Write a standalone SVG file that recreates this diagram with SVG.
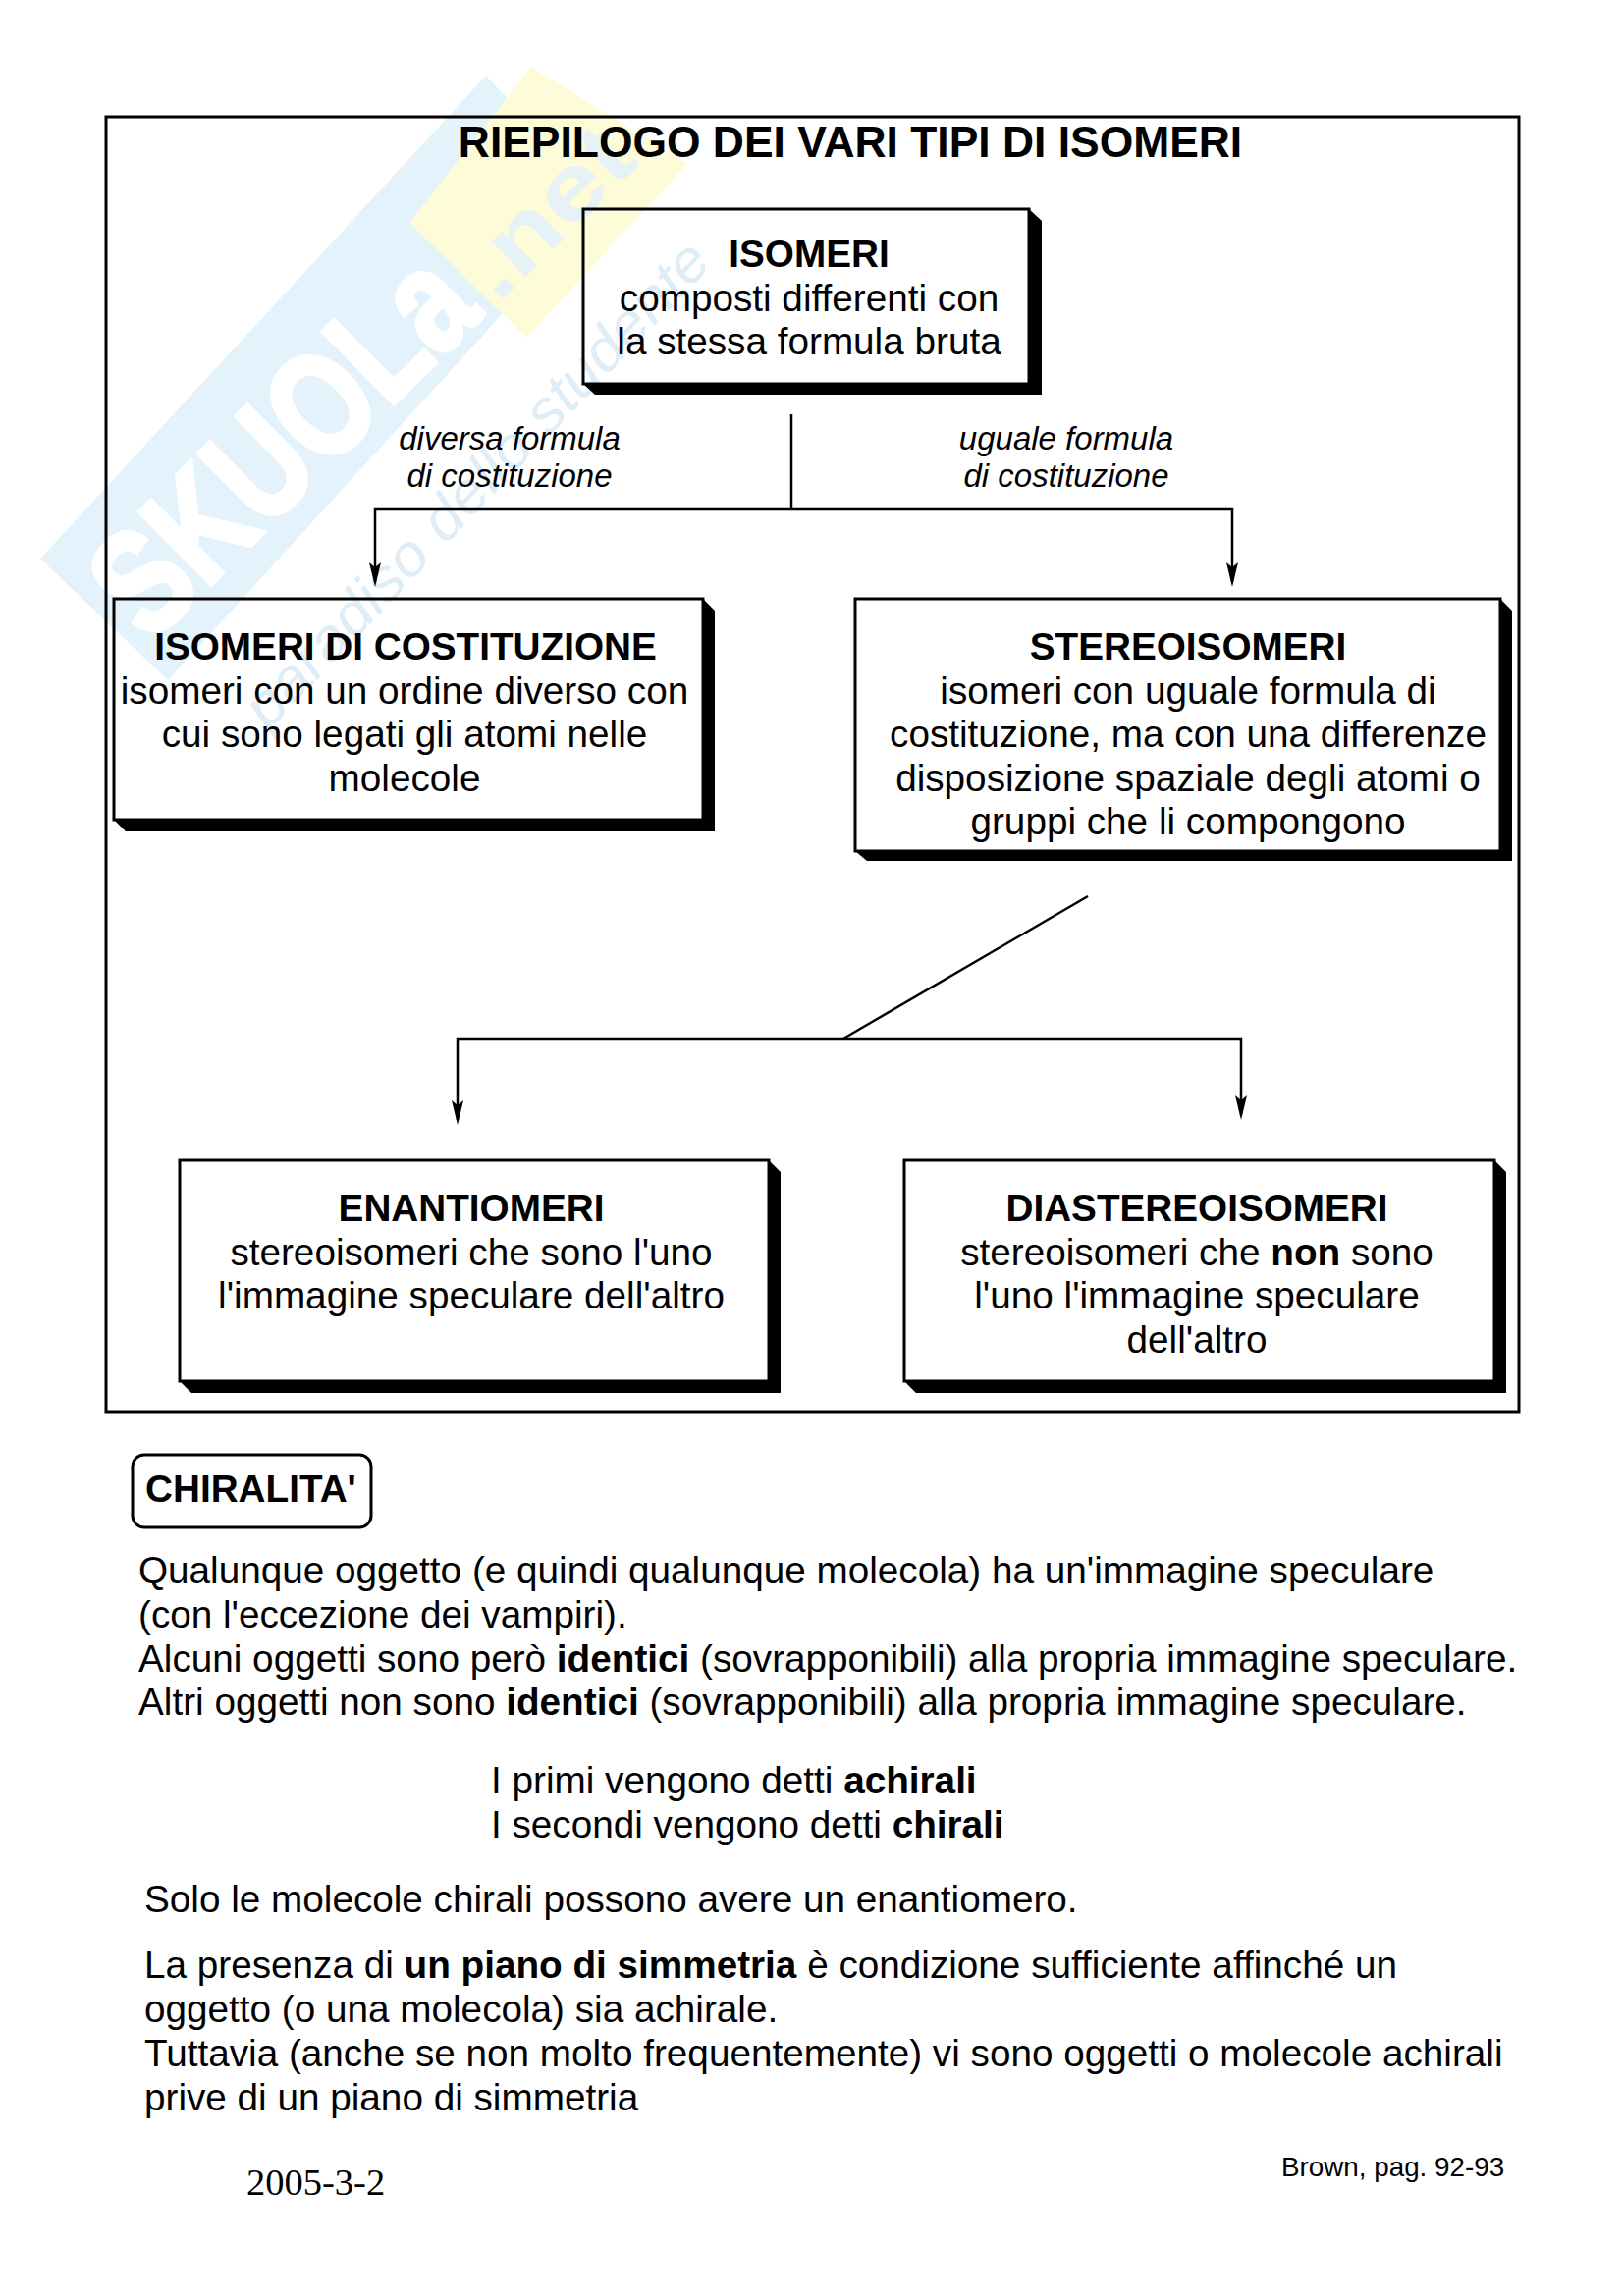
<svg xmlns="http://www.w3.org/2000/svg" width="1653" height="2339" viewBox="0 0 1653 2339">
<style>
text{font-family:"Liberation Sans",Arial,sans-serif;fill:#000;font-size:38.7px}
.m{text-anchor:middle}
.h{font-weight:bold}
.i{font-style:italic;font-size:33px}
.box{fill:none;stroke:#000;stroke-width:3}
.sh{fill:#000}
.c{fill:none;stroke:#000;stroke-width:2.5}
.wb{fill:#e3f2fb}.wy{fill:#fdfbd8}
.wt{fill:#fff;stroke:#fff;stroke-width:5;font-weight:bold;font-size:150px}
.wn{fill:#e6f2f5;font-weight:bold;font-size:95px}
.ws{fill:#dfedf7;font-size:60px;font-style:italic}
</style>
<defs>
<marker id="b" markerUnits="userSpaceOnUse" markerWidth="26" markerHeight="14" refX="20" refY="7" orient="auto" viewBox="0 0 26 14"><path d="M0 1L25 7L0 13L5 7Z" fill="#000"/></marker>
</defs>
<g id="watermark">
<polygon class="wb" points="41,569 495,77 600,190 507,325 171,693"/>
<polygon class="wy" points="417,227 541,68 700,167 536,344"/>
<text class="wt" transform="translate(153,656) rotate(-44.6)" textLength="478" lengthAdjust="spacingAndGlyphs">SKUOLa</text>
<text class="wn" transform="translate(507,310) rotate(-44.6)" textLength="205" lengthAdjust="spacingAndGlyphs">.net</text>
<text class="ws" transform="translate(273,745) rotate(-46.4)" textLength="658" lengthAdjust="spacingAndGlyphs">paradiso dello studente</text>
</g>
<g id="frame"><rect x="108" y="119" width="1439" height="1319" fill="none" stroke="#000" stroke-width="3"/></g>
<text id="title" class="h m" x="866" y="160" style="font-size:44.4px">RIEPILOGO DEI VARI TIPI DI ISOMERI</text>
<g id="connectors">
<path class="c" d="M806 422V519"/>
<path class="c" marker-end="url(#b)" d="M806 519H382V593"/>
<path class="c" marker-end="url(#b)" d="M806 519H1255V593"/>
<path class="c" d="M1108 913L859 1058"/>
<path class="c" marker-end="url(#b)" d="M859 1058H466V1141"/>
<path class="c" marker-end="url(#b)" d="M859 1058H1264V1136"/>
</g>
<text id="label-left" class="i m"><tspan x="519" y="458">diversa formula</tspan><tspan x="519" y="496">di costituzione</tspan></text>
<text id="label-right" class="i m"><tspan x="1086" y="458">uguale formula</tspan><tspan x="1086" y="496">di costituzione</tspan></text>
<g id="node-isomeri">
<polygon class="sh" points="1048,213 1061,225 1061,402 606,402 594,391 1048,391"/>
<rect class="box" x="594" y="213" width="454" height="178"/>
<text class="m"><tspan class="h" x="824" y="272">ISOMERI</tspan><tspan x="824" y="316.5">composti differenti con</tspan><tspan x="824" y="361">la stessa formula bruta</tspan></text>
</g>
<g id="node-costituzione">
<polygon class="sh" points="716,610 728,622 728,847 128,847 116,835 716,835"/>
<rect class="box" x="116" y="610" width="600" height="225"/>
<text class="m"><tspan class="h" x="413" y="672">ISOMERI DI COSTITUZIONE</tspan><tspan x="412" y="716.5">isomeri con un ordine diverso con</tspan><tspan x="412" y="761">cui sono legati gli atomi nelle</tspan><tspan x="412" y="806">molecole</tspan></text>
</g>
<g id="node-stereoisomeri">
<polygon class="sh" points="1528,610 1540,622 1540,877 883,877 871,867 1528,867"/>
<rect class="box" x="871" y="610" width="657" height="257"/>
<text class="m"><tspan class="h" x="1210" y="672">STEREOISOMERI</tspan><tspan x="1210" y="716.5">isomeri con uguale formula di</tspan><tspan x="1210" y="761">costituzione, ma con una differenze</tspan><tspan x="1210" y="806">disposizione spaziale degli atomi o</tspan><tspan x="1210" y="850">gruppi che li compongono</tspan></text>
</g>
<g id="node-enantiomeri">
<polygon class="sh" points="783,1182 795,1194 795,1419 195,1419 183,1407 783,1407"/>
<rect class="box" x="183" y="1182" width="600" height="225"/>
<text class="m"><tspan class="h" x="480" y="1244">ENANTIOMERI</tspan><tspan x="480" y="1288.5">stereoisomeri che sono l'uno</tspan><tspan x="480" y="1333">l'immagine speculare dell'altro</tspan></text>
</g>
<g id="node-diastereoisomeri">
<polygon class="sh" points="1522,1182 1534,1194 1534,1419 933,1419 921,1407 1522,1407"/>
<rect class="box" x="921" y="1182" width="601" height="225"/>
<text class="m"><tspan class="h" x="1219" y="1244">DIASTEREOISOMERI</tspan><tspan x="1219" y="1288.5">stereoisomeri che <tspan class="h">non</tspan> sono</tspan><tspan x="1219" y="1333">l'uno l'immagine speculare</tspan><tspan x="1219" y="1378">dell'altro</tspan></text>
</g>
<g id="node-chiralita">
<rect x="135" y="1482" width="243" height="74" rx="12" fill="none" stroke="#000" stroke-width="3"/>
<text class="h" x="148" y="1530">CHIRALITA'</text>
</g>
<g id="body">
<text x="141" y="1613">Qualunque oggetto (e quindi qualunque molecola) ha un'immagine speculare</text>
<text x="141" y="1657.5">(con l'eccezione dei vampiri).</text>
<text x="141" y="1702.5">Alcuni oggetti sono però <tspan class="h">identici</tspan> (sovrapponibili) alla propria immagine speculare.</text>
<text x="141" y="1747">Altri oggetti non sono <tspan class="h">identici</tspan> (sovrapponibili) alla propria immagine speculare.</text>
<text x="500" y="1827">I primi vengono detti <tspan class="h">achirali</tspan></text>
<text x="500" y="1872">I secondi vengono detti <tspan class="h">chirali</tspan></text>
<text x="147" y="1948">Solo le molecole chirali possono avere un enantiomero.</text>
<text x="147" y="2015">La presenza di <tspan class="h">un piano di simmetria</tspan> è condizione sufficiente affinché un</text>
<text x="147" y="2060">oggetto (o una molecola) sia achirale.</text>
<text x="147" y="2105">Tuttavia (anche se non molto frequentemente) vi sono oggetti o molecole achirali</text>
<text x="147" y="2149.5">prive di un piano di simmetria</text>
</g>
<text x="251" y="2236" style="font-family:'Liberation Serif',serif;font-size:38.5px">2005-3-2</text>
<text x="1305" y="2217" style="font-size:27.8px">Brown, pag. 92-93</text>
</svg>
